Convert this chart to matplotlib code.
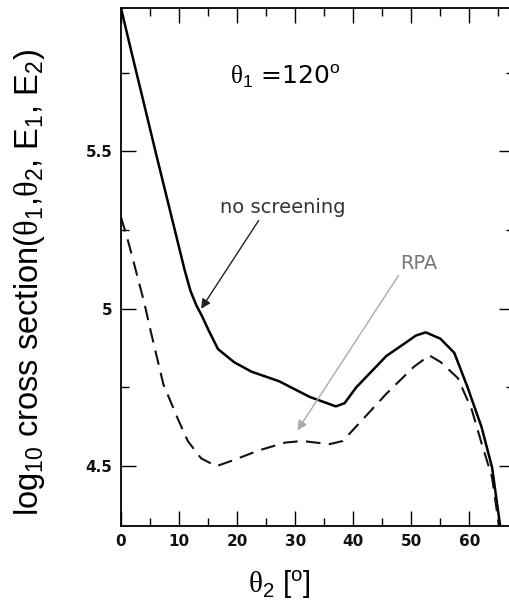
import matplotlib
matplotlib.use("Agg")
import matplotlib.pyplot as plt
from matplotlib.ticker import MultipleLocator

plt.rcParams["mathtext.fontset"] = "custom"
plt.rcParams["mathtext.rm"] = "Liberation Sans"
plt.rcParams["mathtext.it"] = "Liberation Sans:italic"
plt.rcParams["mathtext.sf"] = "Liberation Serif"

# no screening (solid)
x_ns = [0, 2, 4, 6, 8, 10, 11, 12, 13, 14, 15, 16.7, 19.5, 22.5, 27.2, 32.5,
        35.5, 37.0, 38.5, 40.5, 45.7, 48.7, 50.8, 52.5, 55.0, 57.4, 59.7, 62.1, 63.9, 65.3]
y_ns = [5.955, 5.80, 5.648, 5.495, 5.345, 5.195, 5.12, 5.055, 5.01, 4.975, 4.935, 4.872, 4.83, 4.80, 4.77, 4.72,
        4.70, 4.69, 4.70, 4.75, 4.85, 4.888, 4.915, 4.925, 4.905, 4.86, 4.75, 4.624, 4.497, 4.31]

# RPA (dashed)
x_rpa = [0, 1.0, 2.1, 3.0, 4.0, 5.1, 7.3, 9.8, 11.5, 13.8, 16.4, 19.5, 23.7, 28.3, 31.2, 35.9, 38.2,
         41.2, 45.7, 50.4, 53.1, 55.1, 58.0, 60.4, 62.1, 63.9, 65.1]
y_rpa = [5.29, 5.23, 5.154, 5.09, 5.02, 4.93, 4.76, 4.65, 4.58, 4.525, 4.50, 4.52, 4.55, 4.575, 4.58, 4.57, 4.58,
         4.64, 4.73, 4.815, 4.852, 4.83, 4.78, 4.68, 4.573, 4.465, 4.31]

xticks = [0, 10, 20, 30, 40, 50, 60]
yticks = [4.5, 5, 5.5]
ytick_labels = ["4.5", "5", "5.5"]

fig = plt.figure(figsize=(5.09, 6.07), dpi=100)
ax = fig.add_axes([0.2377, 0.1334, 0.7623 + 0.01, 0.8534])

ax.plot(x_ns, y_ns, color="black", lw=1.8, solid_capstyle="butt")
ax.plot(x_rpa, y_rpa, color="#111111", lw=1.5, dashes=(7, 4))

ax.set_xlim(0, 67.7)
ax.set_ylim(4.31, 5.955)
ax.set_xticks(xticks)
ax.set_xticklabels([str(t) for t in xticks])
ax.set_yticks(yticks)
ax.set_yticklabels(ytick_labels)
ax.xaxis.set_minor_locator(MultipleLocator(5))
ax.yaxis.set_minor_locator(MultipleLocator(0.25))
ax.tick_params(which="both", direction="in", top=True, right=True, width=1.0)
ax.tick_params(which="major", length=11, pad=6)
ax.tick_params(which="minor", length=6)
for lab in ax.get_xticklabels() + ax.get_yticklabels():
    lab.set_fontfamily("DejaVu Sans")
    lab.set_fontweight("bold")
    lab.set_fontsize(11)
    lab.set_color("#111111")
for s in ax.spines.values():
    s.set_linewidth(1.3)

ax.text(28.3, 5.74, r"$\mathsf{\theta}_1$ =120$^{\mathrm{o}}$", fontsize=18,
        ha="center", va="center", family="DejaVu Sans")

ax.annotate("", xy=(13.8, 5.0), xytext=(23.7, 5.28),
            arrowprops=dict(arrowstyle="-|>", color="#222222", lw=1.0,
                            mutation_scale=14, shrinkA=0, shrinkB=0))
ax.text(27.8, 5.322, "no screening", fontsize=14, ha="center", va="center",
        color="#333333", family="DejaVu Sans")

ax.annotate("", xy=(30.4, 4.614), xytext=(47.8, 5.106),
            arrowprops=dict(arrowstyle="-|>", color="#aaaaaa", lw=1.0,
                            mutation_scale=14, shrinkA=0, shrinkB=0))
ax.text(51.3, 5.144, "RPA", fontsize=14, ha="center", va="center",
        color="#777777", family="DejaVu Sans")

fig.text(0.057, 0.534,
         r"log$_{10}$ cross section($\mathsf{\theta}_1$,$\mathsf{\theta}_2$, E$_1$, E$_2$)",
         rotation=90, ha="center", va="center", fontsize=23.5, family="Liberation Sans")
fig.text(0.55, 0.036, r"$\mathsf{\theta}_2$ [$^{\mathrm{o}}$]", ha="center", va="center",
         fontsize=21, family="Liberation Sans")

fig.savefig("out.png", dpi=100)
